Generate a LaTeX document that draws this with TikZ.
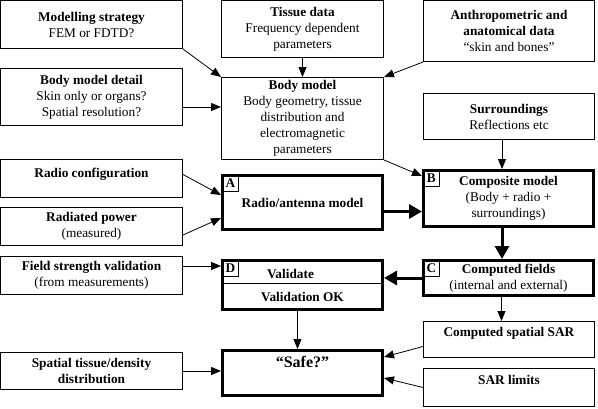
\documentclass[tikz,border=0pt]{standalone}
\usepackage{fontspec}
\setmainfont{Liberation Serif}
\usetikzlibrary{arrows.meta,positioning,shadows}
\newcommand{\hd}[1]{\textbf{#1}}
\newcommand{\bodyfont}{\fontsize{13.3}{16}\selectfont}

\begin{document}
\begin{tikzpicture}[x=1pt, y=-1pt,
      box/.style={draw, line width=1pt, fill=white, align=center,
                  inner sep=2pt, font=\bodyfont},
      core/.style={box, line width=3pt},
      sz/.style 2 args={minimum width=#1, minimum height=#2},
      lift/.style={text depth=#1},
      tag/.style={draw, line width=0.8pt, fill=white, minimum size=15pt,
                  inner sep=0pt, font=\bodyfont\bfseries,
                  general shadow={fill=gray!55, shadow xshift=1.5pt,
                                  shadow yshift=-1.5pt}},
      feed/.style={-{Triangle[length=10pt,width=8pt]}, line width=0.8pt},
      mainflow/.style={-{Triangle[length=13pt,width=14pt]}, line width=3pt}]
    \useasboundingbox (0,0) rectangle (598,408);
    % ----- left column: inputs
    \node[box, sz={182pt}{48pt}] (strat) at (91.5,24.5)
      {\hd{Modelling strategy}\\FEM or FDTD?};
    \node[box, sz={182pt}{57pt}] (detail) at (91.5,97)
      {\hd{Body model detail}\\Skin only or organs?\\Spatial resolution?};
    \node[box, sz={182pt}{38pt}, lift=12pt] (radiocfg) at (91.5,178.5)
      {\hd{Radio configuration}};
    \node[box, sz={182pt}{38pt}] (power) at (91.5,226.5)
      {\hd{Radiated power}\\(measured)};
    \node[box, sz={182pt}{38pt}] (fieldval) at (91.5,275.5)
      {\hd{Field strength validation}\\(from measurements)};
    \node[box, sz={182pt}{37pt}] (tissdist) at (91.5,371)
      {\hd{Spatial tissue/density}\\\hd{distribution}};
    % ----- middle column
    \node[box, sz={162pt}{57pt}] (tissue) at (302.5,29)
      {\hd{Tissue data}\\Frequency dependent\\parameters};
    \node[box, sz={162pt}{82pt}] (body) at (302.5,118.5)
      {\hd{Body model}\\Body geometry, tissue\\distribution and\\electromagnetic\\parameters};
    \node[core, sz={160pt}{54pt}] (radio) at (302.5,202.5)
      {\hd{Radio/antenna model}};
    \node[core, sz={160pt}{49pt}] (valid) at (302.5,285)
      {\hd{Validate}\hspace*{24pt}\\[7pt]\hd{Validation OK}};
    \node[core, sz={160pt}{45pt}, lift=22pt,
          font=\fontsize{16}{19}\selectfont\bfseries] (safe) at (302.5,373)
      {“Safe?”};
    % ----- right column
    \node[box, sz={171pt}{61pt}] (anthro) at (509,31)
      {\hd{Anthropometric and}\\\hd{anatomical data}\\“skin and bones”};
    \node[box, sz={171pt}{46pt}] (surr) at (509,116.5)
      {\hd{Surroundings}\\Reflections etc};
    \node[core, sz={170pt}{56pt}] (comp) at (508.5,198.5)
      {\hd{Composite model}\\(Body + radio +\\surroundings)};
    \node[core, sz={170pt}{35pt}] (fields) at (508.5,278)
      {\hd{Computed fields}\\(internal and external)};
    \node[box, sz={171pt}{36pt}, lift=16pt] (sar) at (509,339.5)
      {\hd{Computed spatial SAR}};
    \node[box, sz={171pt}{38pt}, lift=16pt] (limits) at (509,387.5)
      {\hd{SAR limits}};
    % ----- divider of the validation box
    \draw[line width=1pt] ([yshift=2pt]valid.west) -- ([yshift=2pt]valid.east);
    % ----- thin feeds
    \draw[feed] (strat.south east) -- (body.north west);
    \draw[feed] (tissue.south) -- (body.north);
    \draw[feed] ([yshift=-10pt]detail.east) -- ([yshift=-10pt]detail.east -| body.west);
    \draw[feed] (anthro.south west) -- (body.north east);
    \draw[feed] (body.south east) -- ([yshift=-7pt]comp.north west);
    \draw[feed] ([xshift=-7pt]surr.south) -- ([xshift=-7pt]surr.south |- comp.north);
    \draw[feed] ([yshift=4pt]radiocfg.east) -- ([yshift=7.5pt]radio.west);
    \draw[feed] ([yshift=-8.5pt]power.east) -- ([yshift=-15.5pt]radio.west);
    \draw[feed] ([yshift=9.5pt]fieldval.east) -- ([yshift=9.5pt]fieldval.east -| valid.west);
    \draw[feed] ([xshift=-5pt]valid.south) -- ([xshift=-5pt]valid.south |- safe.north);
    \draw[feed] ([xshift=-7pt]fields.south) -- ([xshift=-7pt]fields.south |- sar.north);
    \draw[feed] ([yshift=-7pt]sar.west) -- ([yshift=16pt]safe.east);
    \draw[feed] (limits.west) -- ([yshift=-5pt]safe.east);
    \draw[feed] (tissdist.east) -- (tissdist.east -| safe.west);
    % ----- thick main chain A -> B -> C -> D
    \draw[mainflow] ([yshift=-9pt]radio.east) -- ([yshift=-9pt]radio.east -| comp.west);
    \draw[mainflow] ([xshift=-6.5pt]comp.south) -- ([xshift=-6.5pt]comp.south |- fields.north);
    \draw[mainflow] (fields.west) -- (fields.west -| valid.east);
    % ----- corner tags
    \node[tag, anchor=north west] (tagA) at ([xshift=1.5pt,yshift=-1.5pt]radio.north west) {A};
    \node[tag, anchor=north west] (tagB) at ([xshift=1.5pt,yshift=-1.5pt]comp.north west) {B};
    \node[tag, anchor=north west] (tagC) at ([xshift=1.5pt,yshift=-1.5pt]fields.north west) {C};
    \node[tag, anchor=north west] (tagD) at ([xshift=1.5pt,yshift=-1.5pt]valid.north west) {D};
  \end{tikzpicture}
\end{document}
